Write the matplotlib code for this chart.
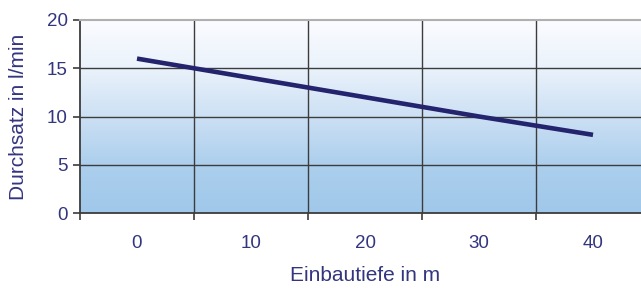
import numpy as np
import matplotlib
matplotlib.use("Agg")
import matplotlib.pyplot as plt
from matplotlib.colors import LinearSegmentedColormap

categories = ["0", "10", "20", "30", "40"]
durchsatz = [16, 14, 12, 10, 8.1]
yticks = [0, 5, 10, 15, 20]

text_color = "#33357f"
line_color = "#23236e"
grid_color = "#3c3c3c"

plt.rcParams['font.family'] = ['Liberation Sans', 'DejaVu Sans']

fig = plt.figure(figsize=(6.41, 2.88), dpi=100)
ax = fig.add_axes([80/641, 75/288, 570/641, 193/288])

x = np.arange(len(categories))
ax.set_xlim(-0.5, len(categories) - 0.5)
ax.set_ylim(0, 20)

# gradient background
cmap = LinearSegmentedColormap.from_list("bg", [
    (0.0, (160/255, 200/255, 234/255)),
    (0.25, (172/255, 207/255, 237/255)),
    (0.5, (204/255, 224/255, 244/255)),
    (0.75, (234/255, 242/255, 251/255)),
    (1.0, (251/255, 252/255, 255/255)),
])
grad = np.linspace(0, 1, 256).reshape(-1, 1)
ax.imshow(grad, aspect='auto', cmap=cmap, origin='lower',
          extent=(-0.5, len(categories) - 0.5, 0, 20), zorder=0)

ax.plot(x, durchsatz, color=line_color, lw=3.3, solid_capstyle='butt', zorder=3)

ax.set_yticks(yticks)
ax.set_xticks(x)
ax.set_xticklabels(categories)
ax.set_xticks(np.arange(-0.5, len(categories), 1.0), minor=True)
ax.tick_params(axis='x', which='major', length=0, pad=16, labelsize=13.5, labelcolor=text_color)
ax.tick_params(axis='x', which='minor', length=5, width=1.2, color=grid_color, direction='out')
ax.tick_params(axis='y', length=5, width=1.2, color=grid_color, pad=4, labelsize=13.5, labelcolor=text_color)

for yv in yticks[1:-1]:
    ax.axhline(yv, color=grid_color, lw=1.0, zorder=1)
for xv in np.arange(0.5, len(categories) - 0.5, 1.0):
    ax.axvline(xv, color=grid_color, lw=1.0, zorder=1)

ax.spines['right'].set_visible(False)
ax.spines['top'].set_color('#b0b0b0')
ax.spines['top'].set_linewidth(1.5)
ax.spines['left'].set_color(grid_color)
ax.spines['left'].set_linewidth(1.3)
ax.spines['bottom'].set_color(grid_color)
ax.spines['bottom'].set_linewidth(1.3)

ax.set_xlabel("Einbautiefe in m", fontsize=15, color=text_color, labelpad=10)
ax.set_ylabel("Durchsatz in l/min", fontsize=15, color=text_color)
ax.yaxis.set_label_coords(-(80 - 28) / 570, 0.5)

fig.savefig("out.png", dpi=100)
